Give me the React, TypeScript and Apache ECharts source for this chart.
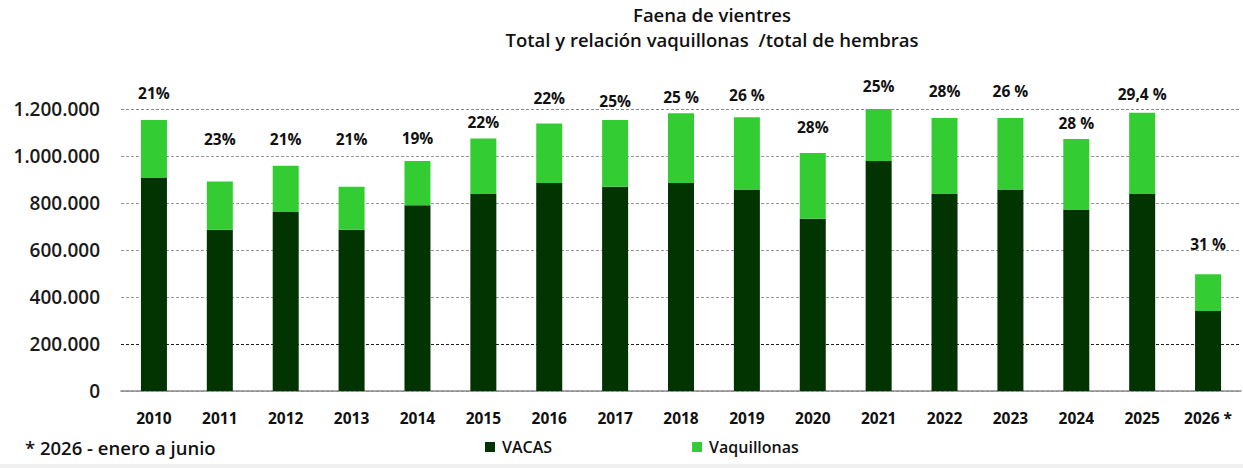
import { useEffect, useRef } from "react";
import * as echarts from "echarts";

// Categories and values
const years = [
    "2010", "2011", "2012", "2013", "2014", "2015", "2016", "2017", "2018",
    "2019", "2020", "2021", "2022", "2023", "2024", "2025", "2026 *",
];

const vacas = [
    908000, 686000, 762000, 686000, 790000, 838000, 885000, 869000, 885000,
    857000, 733000, 979000, 838000, 857000, 772000, 838000, 340000,
];

const vaquillonas = [
    245000, 206000, 197000, 183000, 189000, 237000, 253000, 284000, 297000,
    308000, 280000, 221000, 324000, 305000, 300000, 346000, 157000,
];

const ratioLabels = [
    "21%", "23%", "21%", "21%", "19%", "22%", "22%", "25%", "25 %",
    "26 %", "28%", "25%", "28%", "26 %", "28 %", "29,4 %", "31 %",
];

// how far each percentage sits above its bar (px)
const labelLift = [19, 34, 19, 40, 15, 8, 18, 11, 8, 14, 18, 15, 19, 19, 8, 11, 22];

const FONT = "'Open Sans', 'Noto Sans', sans-serif";

const fmtThousands = (v: number) =>
    String(v).replace(/\B(?=(\d{3})+(?!\d))/g, ".");

export default function App() {
    const chartRef = useRef<HTMLDivElement | null>(null);

    useEffect(() => {
        document.body.style.margin = "0";
        if (!chartRef.current) return;

        const chart = echarts.init(chartRef.current, null, { renderer: "svg" });

        const option: echarts.EChartsOption = {
            animation: false,
            backgroundColor: "#ffffff",
            textStyle: { fontFamily: FONT },
            title: {
                text: "Faena de vientres\nTotal y relación vaquillonas  /total de hembras",
                left: 712,
                top: 2,
                padding: 0,
                textAlign: "center",
                textStyle: {
                    fontFamily: FONT,
                    fontSize: 18.5,
                    fontWeight: 600,
                    color: "#111",
                    lineHeight: 25,
                },
            },
            legend: {
                left: 480,
                top: 434,
                itemWidth: 10,
                itemHeight: 10,
                itemGap: 140,
                icon: "rect",
                textStyle: {
                    fontFamily: FONT,
                    fontSize: 16,
                    fontWeight: 600,
                    color: "#111",
                    padding: [0, 0, 0, 2],
                },
                data: ["VACAS", "Vaquillonas"],
            },
            grid: {
                left: 121,
                right: 2,
                top: 109,
                bottom: 77,
            },
            xAxis: {
                type: "category",
                data: years,
                axisLine: { lineStyle: { color: "#8a8a8a", width: 1.5 } },
                axisTick: { show: false },
                axisLabel: {
                    margin: 19,
                    fontFamily: FONT,
                    fontSize: 15.5,
                    fontWeight: 700,
                    color: "#111",
                },
            },
            yAxis: {
                type: "value",
                min: 0,
                max: 1200000,
                interval: 200000,
                axisLine: { show: false },
                axisTick: { show: false },
                axisLabel: {
                    margin: 21,
                    fontFamily: FONT,
                    fontSize: 19,
                    fontWeight: 600,
                    color: "#1a1a1a",
                    formatter: (v: number) => fmtThousands(v),
                },
                splitLine: {
                    lineStyle: {
                        type: [3, 2],
                        color: ["#999", "#222", "#999", "#999", "#999", "#999", "#888"],
                        width: 1,
                    },
                },
            },
            series: [
                {
                    name: "VACAS",
                    type: "bar",
                    stack: "total",
                    barWidth: 26,
                    itemStyle: { color: "#013401" },
                    data: vacas,
                },
                {
                    name: "Vaquillonas",
                    type: "bar",
                    stack: "total",
                    barWidth: 26,
                    itemStyle: { color: "#33cc33" },
                    data: vaquillonas.map((v, i) => ({
                        value: v,
                        label: {
                            show: true,
                            position: "top",
                            distance: labelLift[i],
                            formatter: ratioLabels[i],
                            fontFamily: FONT,
                            fontSize: 15.5,
                            fontWeight: 700,
                            color: "#111",
                        },
                    })),
                },
            ],
            graphic: [
                {
                    type: "text",
                    left: 25,
                    top: 438,
                    style: {
                        text: "* 2026 - enero a junio",
                        fontFamily: FONT,
                        fontSize: 18.5,
                        fontWeight: 600,
                        fill: "#111",
                    },
                },
                {
                    type: "rect",
                    left: 0,
                    top: 464,
                    shape: { width: 1243, height: 4 },
                    style: { fill: "#f0f0f0" },
                },
            ],
        };

        chart.setOption(option);

        return () => {
            chart.dispose();
        };
    }, []);

    return <div ref={chartRef} style={{ width: "1243px", height: "468px" }} />;
}
